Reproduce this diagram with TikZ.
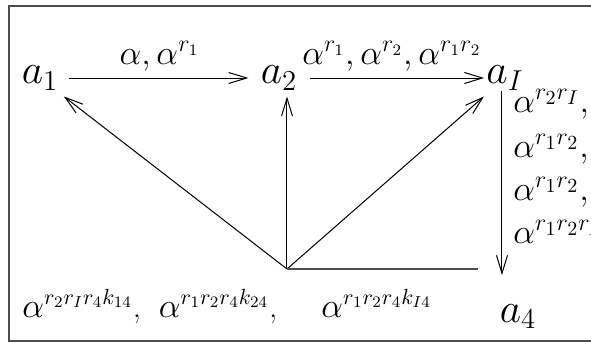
\documentclass[tikz,border=0pt]{standalone}
\usetikzlibrary{arrows.meta}
\begin{document}
\begin{tikzpicture}[x=0.5pt, y=-0.5pt, font=\LARGE]
    % graph of the a_i with the alpha powers on its edges
    \tikzset{arr/.style={-{Straight Barb[length=9pt,width=5.5pt]}, line width=0.5pt}, plainline/.style={line width=0.9pt, black!70},
        vertex/.style={font=\fontsize{21.7}{26}\selectfont, inner sep=3pt}, toplbl/.style={font=\fontsize{16.4}{20}\selectfont},
        edgelbl/.style={anchor=base west, inner sep=0pt}}
    \useasboundingbox (0,0) rectangle (591,343);
    \draw[plainline] (9,6) rectangle (660,341);
    \node[vertex] (a1) at (40,78) {$a_1$}; \node[vertex] (a2) at (279,78) {$a_2$}; \node[vertex] (aI) at (505,78) {$a_I$};
    \node[vertex, anchor=base] (a4) at (518,322) {$a_4$};
    \coordinate (hub) at (287,269); \coordinate (tail) at (478,269);
    \coordinate (top) at (502,91); \coordinate (bot) at (502,275);
    \draw[arr, shorten <=2pt, shorten >=3pt] (a1) -- (a2) node[midway, above, toplbl] {$\alpha, \alpha^{r_1}$};
    \draw[arr, shorten <=3pt, shorten >=-2pt] (a2) -- (aI) node[midway, above, toplbl] {$\alpha^{r_1}, \alpha^{r_2}, \alpha^{r_1r_2}$};
    \draw[arr] (hub) -- (a1); \draw[arr] (hub) -- (hub |- a2.south); \draw[arr] (hub) -- (aI);
    \draw[plainline] (hub) -- (tail);
    \draw[arr] (top) -- (bot);
    \node[edgelbl] (l1) at (513,112) {$\alpha^{r_2r_I},$}; \node[edgelbl] (l2) at (513,157) {$\alpha^{r_1r_2},$};
    \node[edgelbl] (l3) at (513,200) {$\alpha^{r_1r_2},$}; \node[edgelbl] (l4) at (513,243) {$\alpha^{r_1r_2r_Ir_4}$};
    \node[edgelbl, font=\fontsize{16.3}{20}\selectfont] (bottom) at (22,317) {$\alpha^{r_2r_Ir_4k_{14}}$,\hspace{9pt}$\alpha^{r_1r_2r_4k_{24}}$,\hspace{22pt}$\alpha^{r_1r_2r_4k_{I4}}$};
\end{tikzpicture}
\end{document}
